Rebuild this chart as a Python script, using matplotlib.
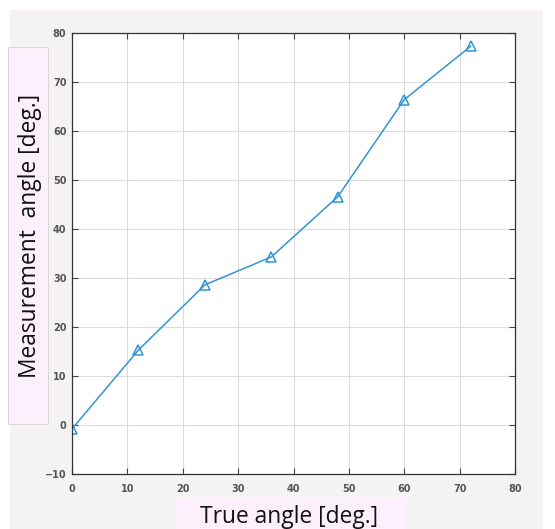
import matplotlib.pyplot as plt
from matplotlib.patches import Rectangle

# valeurs
angle_vrai = [0, 12, 24, 36, 48, 60, 72]
angle_mesure = [-0.8, 15.3, 28.6, 34.3, 46.6, 66.4, 77.3]
graduations_x = [0, 10, 20, 30, 40, 50, 60, 70, 80]
graduations_y = [-10, 0, 10, 20, 30, 40, 50, 60, 70, 80]

W, H = 555, 529
fig = plt.figure(figsize=(W / 100, H / 100), dpi=100)
fig.patch.set_facecolor('white')

def boite(x0, y0, x1, y1, couleur, bord=None):
    # coordonnees en pixels, origine en haut a gauche
    r = Rectangle((x0 / W, 1 - y1 / H), (x1 - x0) / W, (y1 - y0) / H,
                  transform=fig.transFigure, facecolor=couleur,
                  edgecolor=bord if bord else 'none', linewidth=0.6, zorder=-5)
    fig.patches.append(r)

boite(10, 10, 543, 529, '#f5f2f4')
boite(8, 47, 48, 424, '#fcf0fc', '#d8d0d8')
boite(175, 497, 405, 529, '#fcf0fc')

ax = fig.add_axes([72 / W, 1 - 474 / H, (515 - 72) / W, (474 - 33) / H])
ax.set_facecolor('white')
ax.plot(angle_vrai, angle_mesure, color='#3493d2', linewidth=1.1,
        marker='^', markersize=7.5, markerfacecolor='none',
        markeredgecolor='#3493d2', markeredgewidth=1.1)

ax.set_xlim(0, 80)
ax.set_ylim(-10, 80)
ax.set_xticks(graduations_x)
ax.set_yticks(graduations_y)
ax.grid(True, color='#dcdcdc', linewidth=0.8)
ax.set_axisbelow(True)
ax.tick_params(direction='in', top=True, right=True, length=4,
               color='#444444', labelsize=7, labelcolor='#555555')
ax.tick_params(axis='x', pad=7)
ax.tick_params(axis='y', pad=4)
for lab in ax.get_xticklabels() + ax.get_yticklabels():
    lab.set_fontweight('bold')
for s in ax.spines.values():
    s.set_color('#333333')
    s.set_linewidth(0.9)

fig.text(289 / W, 1 - 517 / H, 'True angle [deg.]', family='Open Sans',
         fontsize=16.4, ha='center', va='center', color='#111111')
fig.text(30 / W, 1 - 236 / H, 'Measurement  angle [deg.]', family='Open Sans',
         fontsize=16.4, rotation=90, ha='center', va='center', color='#111111')

fig.savefig('out.png', dpi=100)
